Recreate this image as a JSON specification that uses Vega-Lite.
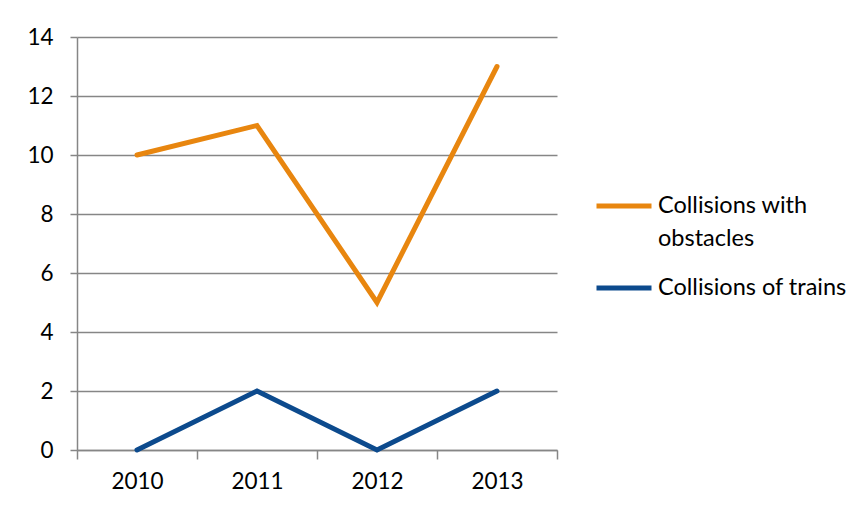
{
  "$schema": "https://vega.github.io/schema/vega-lite/v6.json",
  "width": 480,
  "height": 413,
  "autosize": {"type": "none"},
  "padding": {"left": 77, "top": 37, "right": 311, "bottom": 62},
  "background": "white",
  "config": {
    "view": {"stroke": null},
    "font": "Lato",
    "style": {"guide-label": {"lineHeight": 33}}
  },
  "data": {
    "values": [
      {"year": "2010", "series": "Collisions with obstacles", "value": 10},
      {"year": "2011", "series": "Collisions with obstacles", "value": 11},
      {"year": "2012", "series": "Collisions with obstacles", "value": 5},
      {"year": "2013", "series": "Collisions with obstacles", "value": 13},
      {"year": "2010", "series": "Collisions of trains", "value": 0},
      {"year": "2011", "series": "Collisions of trains", "value": 2},
      {"year": "2012", "series": "Collisions of trains", "value": 0},
      {"year": "2013", "series": "Collisions of trains", "value": 2}
    ]
  },
  "mark": {"type": "line", "strokeWidth": 5, "strokeCap": "round", "strokeJoin": "miter"},
  "encoding": {
    "x": {
      "field": "year",
      "type": "ordinal",
      "scale": {"type": "band", "paddingInner": 0, "paddingOuter": 0},
      "axis": {
        "title": null,
        "labelAngle": 0,
        "tickBand": "extent",
        "grid": false,
        "domainColor": "#868686",
        "domainWidth": 1.5,
        "tickColor": "#868686",
        "tickWidth": 1.5,
        "tickSize": 9,
        "labelFontSize": 22.5,
        "labelColor": "#000000",
        "labelPadding": 11,
        "labelFont": "Lato"
      }
    },
    "y": {
      "field": "value",
      "type": "quantitative",
      "scale": {"domain": [0, 14], "nice": false},
      "axis": {
        "title": null,
        "values": [0, 2, 4, 6, 8, 10, 12, 14],
        "grid": true,
        "gridColor": "#868686",
        "gridWidth": 1.5,
        "domainColor": "#868686",
        "domainWidth": 1.5,
        "tickColor": "#868686",
        "tickWidth": 1.5,
        "tickSize": 7,
        "labelFontSize": 22.5,
        "labelColor": "#000000",
        "labelPadding": 17,
        "labelFont": "Lato"
      }
    },
    "color": {
      "field": "series",
      "type": "nominal",
      "scale": {
        "domain": ["Collisions with obstacles", "Collisions of trains"],
        "range": ["#E8860F", "#0C4A8D"]
      },
      "legend": {
        "title": null,
        "orient": "none",
        "legendX": 517,
        "legendY": 139,
        "symbolType": "stroke",
        "symbolStrokeWidth": 5,
        "symbolSize": 3025,
        "labelFontSize": 23.5,
        "labelColor": "#000000",
        "labelFont": "Lato",
        "labelOffset": 4,
        "rowPadding": 7,
        "labelLimit": 300,
        "labelExpr": "datum.label == 'Collisions with obstacles' ? ['Collisions with', 'obstacles'] : datum.label"
      }
    }
  }
}
